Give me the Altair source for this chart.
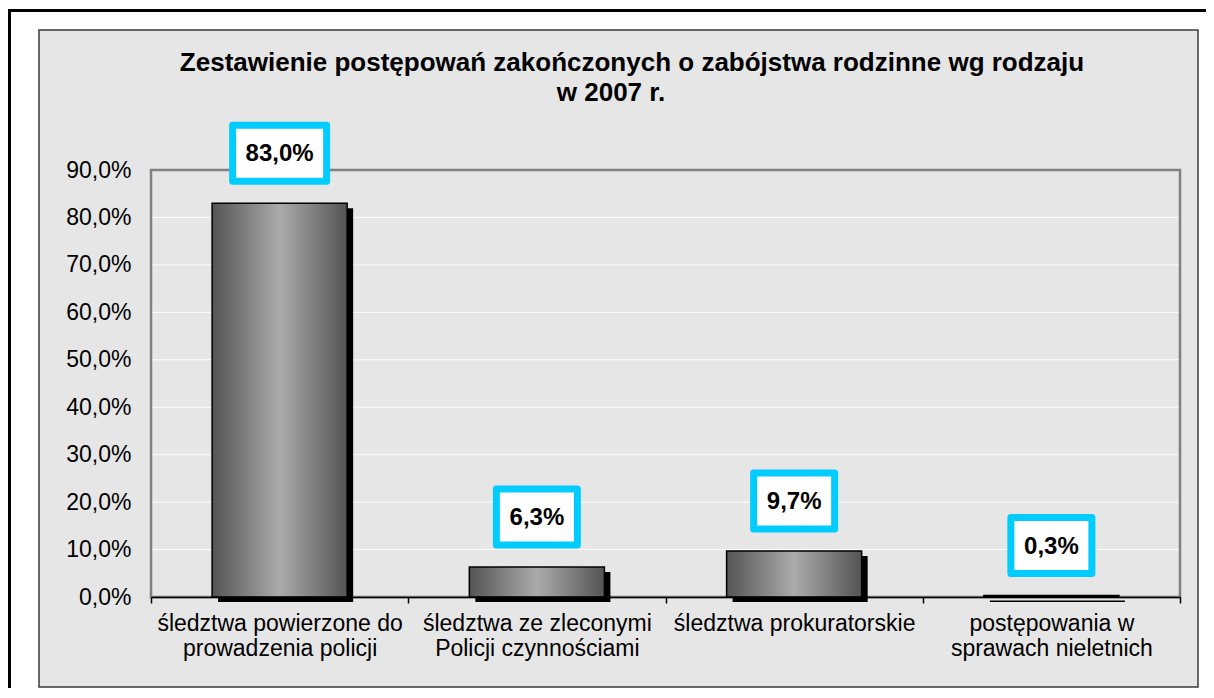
import altair as alt
import pandas as pd

# ---- data ----
categories = [
    "śledztwa powierzone do\nprowadzenia policji",
    "śledztwa ze zleconymi\nPolicji czynnościami",
    "śledztwa prokuratorskie",
    "postępowania w\nsprawach nieletnich",
]
shares = [0.830, 0.063, 0.097, 0.003]
value_labels = ["83,0%", "6,3%", "9,7%", "0,3%"]
y_ticks = [0.0, 0.1, 0.2, 0.3, 0.4, 0.5, 0.6, 0.7, 0.8, 0.9]
title_line1 = "Zestawienie postępowań zakończonych o zabójstwa rodzinne wg  rodzaju"
title_line2 = "w 2007 r."

# ---- layout ----
W, H = 1029, 427
FONT = "Liberation Sans"
one = alt.Data(values=[{"a": 1}])

df = pd.DataFrame({"kat": categories, "udzial": shares, "etykieta": value_labels})
grid_df = pd.DataFrame({"udzial": y_ticks[1:-1]})

x_enc = alt.X(
    "kat:N",
    sort=categories,
    scale=alt.Scale(paddingInner=0, paddingOuter=0),
    axis=alt.Axis(
        title=None, labelAngle=0, labelFont=FONT, labelFontSize=23, labelColor="#000",
        labelExpr="split(datum.label, '\\n')", labelLineHeight=25, labelPadding=9,
        labelLimit=400, tickBand="extent", tickSize=6, tickColor="#000", tickWidth=1.5,
        domainColor="#000", domainWidth=1.5, grid=False, zindex=1,
    ),
)
y_axis = alt.Axis(
    title=None, values=y_ticks,
    labelExpr="replace(format(datum.value, '.1%'), '.', ',')",
    labelFont=FONT, labelFontSize=23, labelColor="#000", labelPadding=20,
    ticks=False, domain=False, grid=False, zindex=1,
)
y_scale = alt.Scale(domain=[0, 0.9], nice=False, zero=True)
y_enc = alt.Y("udzial:Q", scale=y_scale, axis=y_axis)

outer_top = alt.Chart(one).mark_rule(color="#000", strokeWidth=3).encode(
    x=alt.value(-143), x2=alt.value(W + 26), y=alt.value(-159.5)
)
outer_left = alt.Chart(one).mark_rule(color="#000", strokeWidth=3).encode(
    x=alt.value(-141.5), y=alt.value(-161), y2=alt.value(H + 91)
)
inner_box = alt.Chart(one).mark_rect(fill="#e6e6e6", stroke="#3a3a3a", strokeWidth=1.5).encode(
    x=alt.value(-112), x2=alt.value(1047), y=alt.value(-140), y2=alt.value(517)
)
grid = alt.Chart(grid_df).mark_rule(color="#ffffff", strokeWidth=1, opacity=0.9).encode(
    y=y_enc, x=alt.value(0), x2=alt.value(W)
)
plot_border = alt.Chart(one).mark_rect(filled=False, stroke="#808080", strokeWidth=2.5).encode(
    x=alt.value(0), x2=alt.value(W), y=alt.value(0), y2=alt.value(H)
)

bar_w = alt.RelativeBandSize(0.525)
shadow = alt.Chart(df).mark_bar(color="#000", xOffset=6, yOffset=5, y2Offset=0, width=bar_w).encode(
    x=x_enc, y=y_enc
)
gradient = {
    "gradient": "linear", "x1": 0, "x2": 1, "y1": 0, "y2": 0,
    "stops": [
        {"offset": 0, "color": "#545454"},
        {"offset": 0.5, "color": "#ababab"},
        {"offset": 1, "color": "#545454"},
    ],
}
bars = alt.Chart(df).mark_bar(fill=gradient, stroke="#000", strokeWidth=1.5, width=bar_w).encode(
    x=x_enc, y=y_enc
)

wide = "M-0.94,-0.56L0.94,-0.56L0.94,0.56L-0.94,0.56Z"
narrow = "M-0.81,-0.56L0.81,-0.56L0.81,0.56L-0.81,0.56Z"
boxes = alt.Chart(df).transform_calculate(
    shp=f"length(datum.etykieta) > 4 ? '{wide}' : '{narrow}'"
).mark_point(
    filled=True, fill="#ffffff", stroke="#00ccff", strokeWidth=7, strokeJoin="round",
    size=10000, opacity=1, fillOpacity=1, strokeOpacity=1, yOffset=-50,
).encode(
    x=alt.X("kat:N", sort=categories), y=y_enc,
    shape=alt.Shape("shp:N", scale=None, legend=None),
)
texts = alt.Chart(df).mark_text(
    font=FONT, fontSize=24, fontWeight="bold", color="#000", baseline="middle", align="center",
    yOffset=-49,
).encode(x=alt.X("kat:N", sort=categories), y=y_enc, text="etykieta:N")

t1 = alt.Chart(one).mark_text(
    text=title_line1, font=FONT, fontSize=26, fontWeight="bold", color="#000", align="center",
    baseline="alphabetic",
).encode(x=alt.value(481), y=alt.value(-99))
t2 = alt.Chart(one).mark_text(
    text=title_line2, font=FONT, fontSize=26, fontWeight="bold", color="#000", align="center",
    baseline="alphabetic",
).encode(x=alt.value(460), y=alt.value(-69))

chart = alt.layer(
    outer_top, outer_left, inner_box, grid, plot_border, shadow, bars, boxes, texts, t1, t2
).properties(
    width=W, height=H,
    autosize=alt.AutoSizeParams(type="none"),
    padding={"left": 143, "top": 162, "right": 26, "bottom": 91},
    background="#ffffff",
).configure_view(stroke=None)

chart.save("out.html", embed_options={"renderer": "svg", "actions": False})
